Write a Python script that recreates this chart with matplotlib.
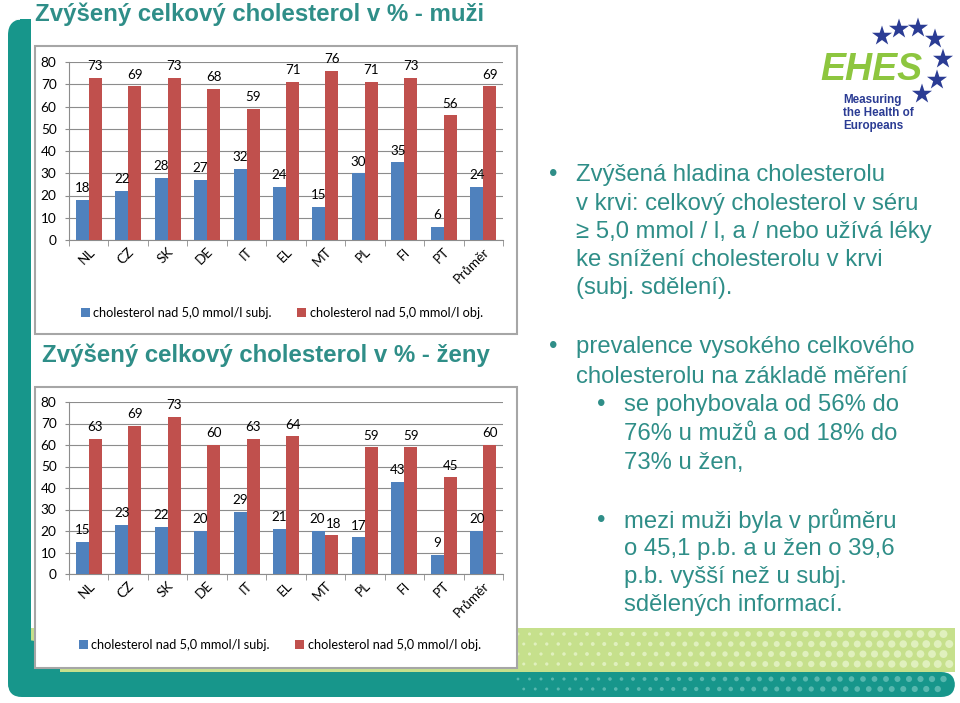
import numpy as np
import matplotlib
matplotlib.use("Agg")
import matplotlib.pyplot as plt
from matplotlib.patches import FancyBboxPatch, Rectangle
import matplotlib.transforms as mtransforms

# ---------------- data ----------------
categories = ["NL", "CZ", "SK", "DE", "IT", "EL", "MT", "PL", "FI", "PT", "Průměr"]
men_subj = [18, 22, 28, 27, 32, 24, 15, 30, 35, 6, 24]
men_obj = [73, 69, 73, 68, 59, 71, 76, 71, 73, 56, 69]
women_subj = [15, 23, 22, 20, 29, 21, 20, 17, 43, 9, 20]
women_obj = [63, 69, 73, 60, 63, 64, 18, 59, 59, 45, 60]
series_names = ["cholesterol nad 5,0 mmol/l subj.", "cholesterol nad 5,0 mmol/l obj."]
yticks = [0, 10, 20, 30, 40, 50, 60, 70, 80]
title_men = "Zvýšený celkový cholesterol v % - muži"
title_women = "Zvýšený celkový cholesterol v % - ženy"

BLUE = "#4F81BD"
RED = "#C0504D"
TEAL = "#17968B"
TEXT_TEAL = "#2F8E88"
LGREEN = "#C6E08C"
GRID = "#8C8C8C"

W, H = 960, 703
fig = plt.figure(figsize=(W / 100, H / 100), dpi=100)
fig.patch.set_facecolor("white")

bg = fig.add_axes([0, 0, 1, 1])
bg.set_xlim(0, W)
bg.set_ylim(H, 0)
bg.axis("off")

# ---- decorative frame ----
bg.add_patch(Rectangle((31, 628), 924, 44, facecolor=LGREEN, edgecolor="none", zorder=1))
bg.add_patch(FancyBboxPatch((8, 672), 947, 25, boxstyle="round,pad=0,rounding_size=14",
                            facecolor=TEAL, edgecolor="none", zorder=1))
bg.add_patch(FancyBboxPatch((8, 19), 23, 678, boxstyle="round,pad=0,rounding_size=16",
                            facecolor=TEAL, edgecolor="none", zorder=1))
bg.add_patch(Rectangle((20, 19), 11, 30, facecolor=TEAL, edgecolor="none", zorder=1))
bg.add_patch(Rectangle((20, 660), 40, 20, facecolor=TEAL, edgecolor="none", zorder=1))
bg.add_patch(FancyBboxPatch((8, 640), 40, 57, boxstyle="round,pad=0,rounding_size=22",
                            facecolor=TEAL, edgecolor="none", zorder=1))

# dots texture (decoration)
gx = np.arange(518, 952, 11.5)
for row, yy in enumerate([634, 644, 654, 664]):
    xs = gx + (5.75 if row % 2 else 0)
    xs = xs[xs < 950]
    r = 1.5 + 2.5 * (xs - 518) / 432
    bg.scatter(xs, np.full_like(xs, yy), s=(2 * r * 0.72) ** 2, color="#E0F0BD",
               edgecolors="none", zorder=2)
for row, yy in enumerate([679, 689]):
    xs = gx + (5.75 if row % 2 else 0)
    xs = xs[xs < 944]
    r = 1.4 + 1.8 * (xs - 518) / 432
    bg.scatter(xs, np.full_like(xs, yy), s=(2 * r * 0.72) ** 2, color="#58B8AF",
               edgecolors="none", zorder=2)

# chart boxes
bg.add_patch(Rectangle((35, 46), 482, 288, facecolor="white", edgecolor="#A6A6A6", lw=1.5, zorder=3))
bg.add_patch(Rectangle((35, 387), 482, 281, facecolor="white", edgecolor="#A6A6A6", lw=1.5, zorder=3))

# titles
bg.text(35, 14, title_men, fontsize=17.3, fontweight="bold", color=TEXT_TEAL,
        family="Liberation Sans", va="center", ha="left", zorder=5)
bg.text(42, 355, title_women, fontsize=17.3, fontweight="bold", color=TEXT_TEAL,
        family="Liberation Sans", va="center", ha="left", zorder=5)

# right-side bullet text
fs = 17.2
tk = dict(fontsize=fs, color=TEXT_TEAL, family="Liberation Sans", va="center", ha="left", zorder=5)
bg.text(549, 175, "•", **tk)
for yy, s in zip([175, 204, 232, 260, 288],
                 ["Zvýšená hladina cholesterolu", "v krvi: celkový cholesterol v séru",
                  "≥ 5,0 mmol / l, a / nebo užívá léky", "ke snížení cholesterolu v krvi",
                  "(subj. sdělení)."]):
    bg.text(576, yy, s, **tk)
bg.text(549, 347, "•", **tk)
bg.text(576, 347, "prevalence vysokého celkového", **tk)
bg.text(576, 377, "cholesterolu na základě měření", **tk)
bg.text(597, 405, "•", **tk)
for yy, s in zip([405, 434, 463], ["se pohybovala od 56% do", "76% u mužů a od 18% do", "73% u žen,"]):
    bg.text(624, yy, s, **tk)
bg.text(597, 521, "•", **tk)
for yy, s in zip([521, 549, 577, 605], ["mezi muži byla v průměru", "o 45,1 p.b. a u žen o 39,6",
                                         "p.b. vyšší než u subj.", "sdělených informací."]):
    bg.text(624, yy, s, **tk)

# logo
bg.text(820, 70, "EHES", fontsize=27, fontweight="bold", style="italic", color="#8DC63F",
        family="Liberation Sans", va="center", ha="left", zorder=5)
for yy, s in zip([100, 113, 126], ["Measuring", "the Health of", "Europeans"]):
    bg.text(843, yy, s, fontsize=8.4, fontweight="bold", color="#2B3C94",
            family="Liberation Sans", va="center", ha="left", zorder=5)
stars = [(882, 36), (899, 29), (918, 28), (935, 39), (943, 59), (937, 80), (922, 94)]
bg.scatter([p[0] for p in stars], [p[1] for p in stars], marker="*", s=230,
           color="#2B3C94", edgecolors="none", zorder=5)


def draw_chart(rect, subj, obj, legend_xy):
    ax = fig.add_axes(rect)
    ax.set_zorder(4)
    ax.patch.set_alpha(0)
    x = np.arange(len(categories))
    w = 0.33
    b1 = ax.bar(x - w / 2, subj, w, color=BLUE, zorder=3, label=series_names[0])
    b2 = ax.bar(x + w / 2, obj, w, color=RED, zorder=3, label=series_names[1])
    l1 = ax.bar_label(b1, padding=4, fontsize=9.6, family="Lato", color="black")
    l2 = ax.bar_label(b2, padding=4, fontsize=9.6, family="Lato", color="black")
    # bring labels together (touching, not overlapping) where bars are almost equally tall
    for i in range(len(categories)):
        if abs(subj[i] - obj[i]) < 6:
            l1[i].set_horizontalalignment("right")
            l2[i].set_horizontalalignment("left")
            ox, oy = l1[i].xyann
            l1[i].xyann = (ox + 4.3, oy)
            ox, oy = l2[i].xyann
            l2[i].xyann = (ox - 4.3, oy)
    ax.set_xlim(-0.5, len(categories) - 0.5)
    ax.set_ylim(0, 80)
    ax.set_yticks(yticks)
    ax.yaxis.grid(True, color=GRID, lw=0.8, zorder=0)
    ax.set_axisbelow(True)
    for s in ("top", "right"):
        ax.spines[s].set_visible(False)
    for s in ("left", "bottom"):
        ax.spines[s].set_color(GRID)
        ax.spines[s].set_linewidth(0.8)
    ax.tick_params(axis="y", length=3, color=GRID, pad=6, labelsize=9.8)
    ax.set_xticks(x)
    ax.set_xticks(np.arange(-0.5, len(categories), 1.0), minor=True)
    ax.tick_params(axis="x", which="major", length=0, pad=7, labelsize=9.8)
    ax.tick_params(axis="x", which="minor", length=4, color=GRID)
    ax.set_xticklabels(categories, rotation=45, ha="right", va="center", rotation_mode="anchor")
    off = mtransforms.ScaledTranslation(4 / 100, 0, fig.dpi_scale_trans)
    for lab in ax.get_xticklabels():
        lab.set_transform(lab.get_transform() + off)
    for lab in ax.get_xticklabels() + ax.get_yticklabels():
        lab.set_family("Lato")
    ax.legend(loc="center", bbox_to_anchor=legend_xy, bbox_transform=fig.transFigure,
              ncol=2, frameon=False, handlelength=0.65, handleheight=0.65,
              handletextpad=0.3, columnspacing=2.0, prop={"family": "Lato", "size": 9.2})
    return ax


draw_chart([69 / W, 1 - 240 / H, 434 / W, 178 / H], men_subj, men_obj, (282 / W, 1 - 313 / H))
draw_chart([69 / W, 1 - 574 / H, 434 / W, 172 / H], women_subj, women_obj, (280 / W, 1 - 645 / H))

fig.savefig("out.png", dpi=100)
